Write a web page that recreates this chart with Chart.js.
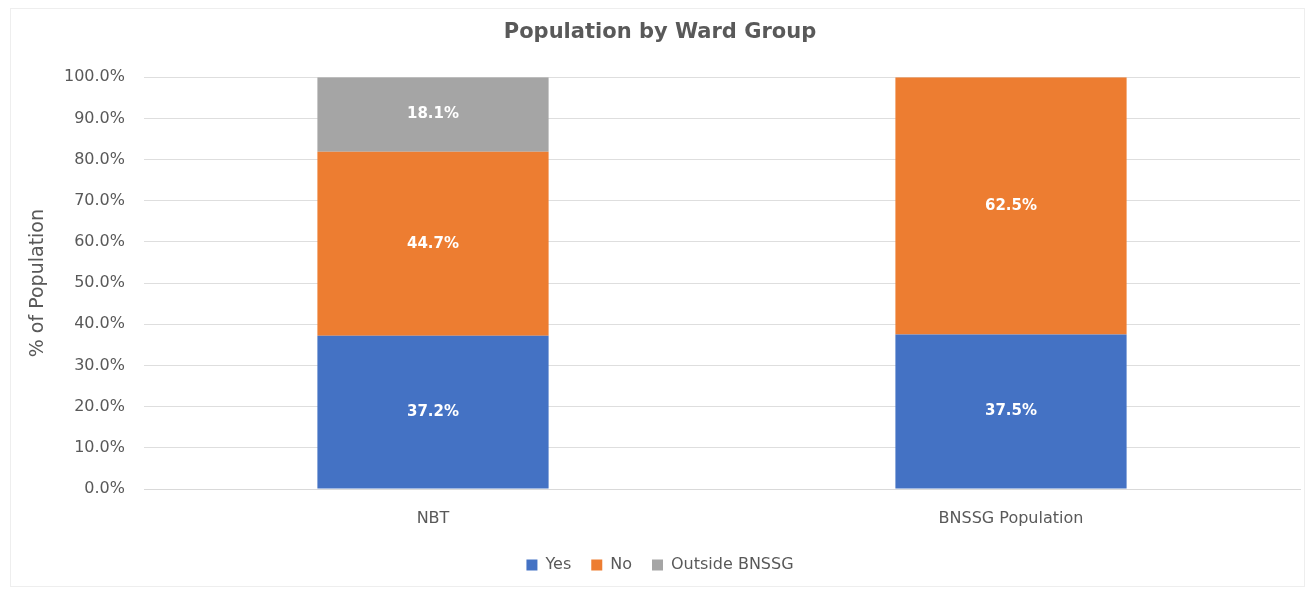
<!DOCTYPE html>
<html>
<head>
<meta charset="utf-8">
<title>Population by Ward Group</title>
<script src="https://cdn.jsdelivr.net/npm/chart.js@4/dist/chart.umd.min.js"></script>
<style>
  html, body { margin: 0; padding: 0; background: #ffffff; }
  #wrap { width: 1306px; height: 592px; }
</style>
</head>
<body>
<div id="wrap"><canvas id="chart"></canvas></div>
<script>
// 数据
const categories = ['NBT', 'BNSSG Population'];
const yesValues = [37.2, 37.5];
const noValues = [44.7, 62.5];
const outsideValues = [18.1, 0];
const yTicks = [0, 10, 20, 30, 40, 50, 60, 70, 80, 90, 100];

const textColor = '#595959';
const fontFamily = '"DejaVu Sans", "Open Sans", sans-serif';

// 柱内数值标签
const barLabels = {
    id: 'barLabels',
    afterDatasetsDraw(chart) {
        const ctx = chart.ctx;
        ctx.save();
        ctx.font = 'bold 15px ' + fontFamily;
        ctx.fillStyle = '#ffffff';
        ctx.textAlign = 'center';
        ctx.textBaseline = 'middle';
        chart.data.datasets.forEach((ds, i) => {
            const meta = chart.getDatasetMeta(i);
            if (meta.hidden) return;
            meta.data.forEach((bar, j) => {
                const v = ds.data[j];
                if (!v) return;
                const p = bar.getProps(['x', 'y', 'base'], true);
                ctx.fillText(v.toFixed(1) + '%', p.x, (p.y + p.base) / 2);
            });
        });
        ctx.restore();
    }
};

// 外框
const outerFrame = {
    id: 'outerFrame',
    beforeDraw(chart) {
        const ctx = chart.ctx;
        ctx.save();
        ctx.strokeStyle = '#eeeeee';
        ctx.lineWidth = 1;
        ctx.strokeRect(10.5, 8.5, chart.width - 12, chart.height - 14);
        ctx.restore();
    }
};

new Chart(document.getElementById('chart'), {
    type: 'bar',
    data: {
        labels: categories,
        datasets: [
            { label: 'Yes', data: yesValues, backgroundColor: '#4472C4' },
            { label: 'No', data: noValues, backgroundColor: '#ED7D31' },
            { label: 'Outside BNSSG', data: outsideValues, backgroundColor: '#A5A5A5' }
        ]
    },
    options: {
        responsive: true,
        maintainAspectRatio: false,
        animation: false,
        layout: { padding: { left: 20, right: 6, top: 0, bottom: 9 } },
        datasets: { bar: { categoryPercentage: 1, barPercentage: 0.4, borderWidth: 0 } },
        plugins: {
            title: {
                display: true,
                text: 'Population by Ward Group',
                color: textColor,
                font: { family: fontFamily, size: 21, weight: 'bold' },
                padding: { top: 20, bottom: 32 }
            },
            legend: {
                position: 'bottom',
                labels: {
                    color: textColor,
                    font: { family: fontFamily, size: 16 },
                    boxWidth: 11,
                    boxHeight: 11,
                    padding: 20
                }
            },
            tooltip: { enabled: false }
        },
        scales: {
            x: {
                stacked: true,
                grid: { display: false },
                border: { color: '#d9d9d9' },
                ticks: { color: textColor, font: { family: fontFamily, size: 16 }, padding: 12 },
                afterFit(scale) { scale.height = 48; }
            },
            y: {
                stacked: true,
                min: 0,
                max: 100,
                afterBuildTicks(scale) { scale.ticks = yTicks.map(v => ({ value: v })); },
                grid: { color: '#dedede', drawTicks: false },
                border: { display: false },
                ticks: {
                    color: textColor,
                    font: { family: fontFamily, size: 16 },
                    padding: 19,
                    callback: v => v.toFixed(1) + '%'
                },
                title: {
                    display: true,
                    text: '% of Population',
                    color: textColor,
                    font: { family: fontFamily, size: 19 },
                    padding: { top: 7, bottom: 0 }
                },
                afterFit(scale) { scale.width = 124; }
            }
        }
    },
    plugins: [barLabels, outerFrame]
});
</script>
</body>
</html>
